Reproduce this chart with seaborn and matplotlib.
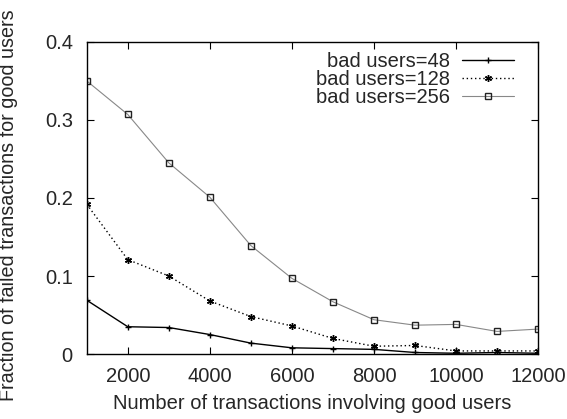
import pandas as pd
import numpy as np
import matplotlib
matplotlib.use('Agg')
import matplotlib.pyplot as plt
import seaborn as sns

# transactions involving good users
transactions = [1000, 2000, 3000, 4000, 5000, 6000, 7000, 8000, 9000, 10000, 11000, 12000]
# fraction of failed transactions for good users, one list per number of bad users
bad48 = [0.069, 0.035, 0.034, 0.025, 0.014, 0.008, 0.007, 0.006, 0.002, 0.001, 0.002, 0.001]
bad128 = [0.192, 0.121, 0.100, 0.068, 0.048, 0.036, 0.020, 0.010, 0.011, 0.004, 0.004, 0.004]
bad256 = [0.350, 0.307, 0.245, 0.201, 0.139, 0.097, 0.067, 0.044, 0.037, 0.038, 0.029, 0.032]
labels = ['bad users=48', 'bad users=128', 'bad users=256']

df = pd.DataFrame({
    'x': transactions * 3,
    'y': bad48 + bad128 + bad256,
    'series': [labels[0]] * 12 + [labels[1]] * 12 + [labels[2]] * 12,
})

sns.set_style('ticks')
plt.rcParams['font.family'] = ['Liberation Sans', 'DejaVu Sans']
fs = 14.5

fig = plt.figure(figsize=(5.67, 4.19), dpi=100)
ax = fig.add_axes([0.153, 0.155, 0.796, 0.745])

styles = {
    labels[0]: dict(color='black', linestyle='-', marker='+', lw=1.0, ms=5, mfc='none'),
    labels[1]: dict(color='black', linestyle=(0, (1, 2)), marker=(6, 2, 0), lw=1.0, ms=5),
    labels[2]: dict(color='#888888', linestyle='-', marker='s', lw=0.8, ms=5, mfc='none', mec='#222222'),
}
for lab in labels:
    s = styles[lab]
    sns.lineplot(data=df[df.series == lab], x='x', y='y', ax=ax, label=lab,
                 color=s['color'], linestyle=s['linestyle'], marker=s['marker'],
                 linewidth=s['lw'], markersize=s['ms'],
                 markerfacecolor=s.get('mfc', s['color']),
                 markeredgecolor=s.get('mec', s['color']), markeredgewidth=1.0)

ax.set_xlim(1000, 12000)
ax.set_ylim(0, 0.4)
ax.set_xticks([2000, 4000, 6000, 8000, 10000, 12000])
ax.set_yticks([0, 0.1, 0.2, 0.3, 0.4])
ax.set_yticklabels(['0', '0.1', '0.2', '0.3', '0.4'])
ax.tick_params(direction='in', top=True, right=True, length=5, labelsize=fs,
               color='black')
ax.tick_params(axis='x', pad=9)
ax.tick_params(axis='y', pad=10)
for sp in ax.spines.values():
    sp.set_visible(True)
    sp.set_color('black')
    sp.set_linewidth(1.0)

ax.set_xlabel('Number of transactions involving good users', fontsize=fs, labelpad=6)
ax.set_ylabel('Fraction of failed transactions for good users', fontsize=14.2)
ax.yaxis.set_label_coords(-0.153, 0.478)

ax.legend(loc='upper right', bbox_to_anchor=(0.97, 1.0), frameon=False,
          markerfirst=False, fontsize=fs, handlelength=2.6, labelspacing=-0.05,
          borderaxespad=0.1, handletextpad=0.6)

fig.savefig('out.png', dpi=100)
